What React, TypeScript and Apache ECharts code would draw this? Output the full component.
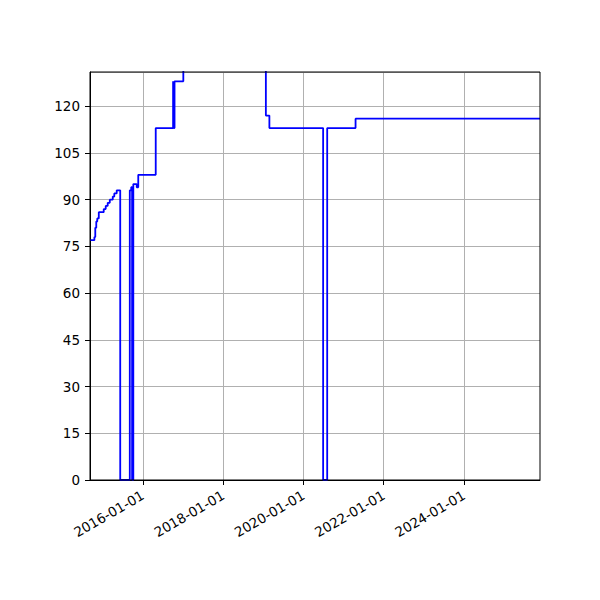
import React, { useEffect, useRef } from "react";
import * as echarts from "echarts";

const dates = [
  "2014-09-08", "2014-10-18", "2014-10-26", "2014-11-04", "2014-11-13", "2014-11-27",
  "2015-01-11", "2015-01-29", "2015-02-16", "2015-03-07", "2015-04-03", "2015-04-17",
  "2015-05-09", "2015-06-10", "2015-09-05", "2015-09-18", "2015-09-26", "2015-10-07",
  "2015-11-07", "2015-11-21", "2016-04-28", "2016-10-03", "2016-10-09", "2016-10-16",
  "2017-01-04", "2019-01-25", "2019-02-26", "2020-06-29", "2020-08-05", "2021-04-20",
  "2025-11-23",
];
const values = [
  77, 78, 81, 83, 84, 86,
  87, 88, 89, 90, 91, 92,
  93, 0, 93, 94, 0, 95,
  94, 98, 113, 128, 113, 128,
  140, 117, 113, 0, 113, 116,
  116,
];
const xTicks = ["2016-01-01", "2018-01-01", "2020-01-01", "2022-01-01", "2024-01-01"];
const yMin = 0;
const yMax = 131;
const yStep = 15;

function toTs(s: string): number {
  const [y, m, d] = s.split("-").map(Number);
  return Date.UTC(y, m - 1, d);
}

function fmt(v: number): string {
  const d = new Date(v);
  const p = (n: number) => (n < 10 ? "0" + n : "" + n);
  return d.getUTCFullYear() + "-" + p(d.getUTCMonth() + 1) + "-" + p(d.getUTCDate());
}

export default function App() {
  const ref = useRef<HTMLDivElement>(null);
  useEffect(() => {
    if (!ref.current) return;
    const chart = echarts.init(ref.current, undefined, { renderer: "svg" });
    const tickVals = xTicks.map(toTs);
    const data = dates.map((d, i) => [toTs(d), values[i]]);
    chart.setOption({
      animation: false,
      backgroundColor: "#ffffff",
      grid: { left: 90, right: 60, top: 72, bottom: 120, containLabel: false },
      xAxis: {
        type: "value",
        min: toTs(dates[0]),
        max: toTs(dates[dates.length - 1]),
        axisLine: { show: true, onZero: false, lineStyle: { color: "#000", width: 1 } },
        axisTick: { show: true, length: 5, lineStyle: { color: "#000" }, customValues: tickVals },
        axisLabel: {
          customValues: tickVals,
          formatter: (v: number) => fmt(v),
          rotate: 30,
          margin: 14,
          color: "#000",
          fontSize: 13.5,
          fontFamily: "DejaVu Sans",
          hideOverlap: false,
        },
        splitLine: { show: false },
      },
      yAxis: {
        type: "value",
        min: yMin,
        max: yMax,
        interval: yStep,
        axisLine: { show: true, lineStyle: { color: "#000", width: 1 } },
        axisTick: { show: true, length: 5, lineStyle: { color: "#000" } },
        axisLabel: {
          color: "#000",
          fontSize: 13.5,
          fontFamily: "DejaVu Sans",
          margin: 10,
          showMaxLabel: false,
          formatter: (v: number) => (v % yStep === 0 ? String(v) : ""),
        },
        splitLine: { show: true, lineStyle: { color: "#b0b0b0", width: 1 } },
      },
      graphic: [
        {
          type: "rect",
          shape: { x: 90, y: 72, width: 450, height: 408 },
          style: { fill: "none", stroke: "#000", lineWidth: 1 },
          z: 100,
          silent: true,
        },
      ],
      series: [
        {
          type: "line",
          data,
          step: "end",
          showSymbol: false,
          symbol: "none",
          clip: true,
          z: 3,
          lineStyle: { color: "#0000ff", width: 1.8 },
          markLine: {
            silent: true,
            symbol: ["none", "none"],
            label: { show: false },
            lineStyle: { color: "#b0b0b0", width: 1, type: "solid" },
            z: 1,
            data: tickVals.map((t) => ({ xAxis: t })),
          },
        },
      ],
    });
    return () => chart.dispose();
  }, []);
  return (
    <div
      ref={ref}
      style={{ position: "fixed", left: 0, top: 0, width: 600, height: 600, background: "#fff" }}
    />
  );
}
